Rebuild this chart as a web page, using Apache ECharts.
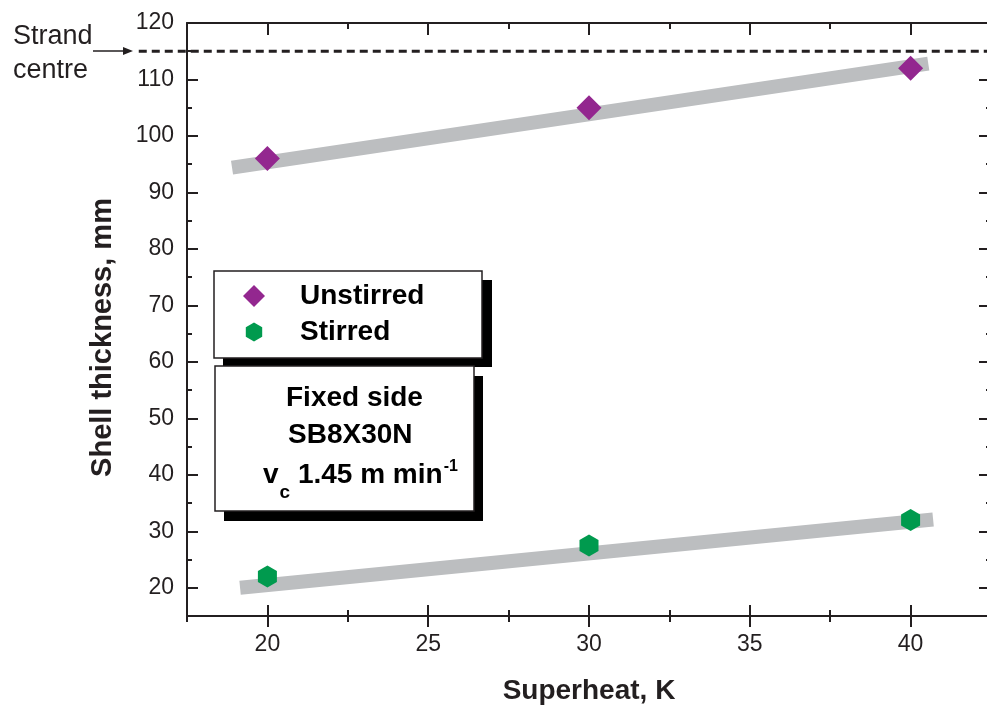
<!DOCTYPE html>
<html>
<head>
<meta charset="utf-8">
<script src="https://cdn.jsdelivr.net/npm/echarts@6/dist/echarts.min.js"></script>
<style>
  html, body { margin: 0; padding: 0; background: #ffffff; }
  #chart { width: 987px; height: 707px; }
</style>
</head>
<body>
<div id="chart"></div>
<script>
// Shell thickness against superheat, fixed side of strand SB8X30N
const superheat = [20, 30, 40];
const unstirred = [96, 105, 112];
const stirred = [22, 27.5, 32];

// End points of the grey trend bands (superheat, thickness)
const unstirredTrendX = [18.9, 40.55];
const unstirredTrendY = [94.4, 112.8];
const stirredTrendX = [19.15, 40.7];
const stirredTrendY = [20.0, 32.1];

// Strand centre reference level
const strandCentre = 115;
const strandLineX = [16, 42.5];

// Axis ticks and labels
const xMajorTicks = [20, 25, 30, 35, 40];
const xMinorTicks = [17.5, 22.5, 27.5, 32.5, 37.5, 42.5];
const yMajorTicks = [20, 30, 40, 50, 60, 70, 80, 90, 100, 110, 120];
const yMinorTicks = [25, 35, 45, 55, 65, 75, 85, 95, 105, 115];

const INK = '#231f20';
const PURPLE = '#93278f';
const GREEN = '#009a4e';
const GREY = '#bcbec0';
const FONT = 'Liberation Sans, Arial, sans-serif';
const HEXAGON = 'path://M0,-1 L0.866,-0.5 L0.866,0.5 L0,1 L-0.866,0.5 L-0.866,-0.5 Z';

const X_MIN = 17.5, X_MAX = 42.5, Y_MIN = 15, Y_MAX = 120;

function pairs(xs, ys) { return xs.map((x, i) => [x, ys[i]]); }

// Extra tick-only axes that frame the plot
function tickAxis(kind, position, ticks, inside, length, showLine) {
  return {
    type: 'value',
    position: position,
    min: kind === 'x' ? X_MIN : Y_MIN,
    max: kind === 'x' ? X_MAX : Y_MAX,
    axisLine: { show: !!showLine, onZero: false, lineStyle: { color: INK, width: 2 } },
    axisTick: { show: true, inside: inside, length: length, customValues: ticks,
                lineStyle: { color: INK, width: 2 } },
    axisLabel: { show: false },
    splitLine: { show: false }
  };
}

function boldText(str, x, y, size) {
  return { type: 'text', z: 12, x: x, y: y,
           style: { text: str, fontFamily: FONT, fontWeight: 'bold', fontSize: size || 28,
                    fill: '#000', verticalAlign: 'middle' } };
}

const chart = echarts.init(document.getElementById('chart'), null, { renderer: 'canvas' });

const graphicBase = [
  // label and arrow pointing at the strand centre level
  {
    type: 'text', x: 13, y: 20, z: 10,
    style: { text: 'Strand\ncentre', fontFamily: FONT, fontSize: 27, lineHeight: 34, fill: INK }
  },
  {
    type: 'line', z: 10,
    shape: { x1: 93, y1: 51, x2: 124, y2: 51 },
    style: { stroke: INK, lineWidth: 1.5 }
  },
  {
    type: 'polygon', z: 10,
    shape: { points: [[123, 47], [133, 51], [123, 55]] },
    style: { fill: INK }
  },
  // legend box
  { type: 'rect', z: 10, shape: { x: 223, y: 280, width: 269, height: 87 }, style: { fill: '#000' } },
  { type: 'rect', z: 11, shape: { x: 214, y: 271, width: 268, height: 87 },
    style: { fill: '#fff', stroke: INK, lineWidth: 1.5 } },
  { type: 'polygon', z: 12, x: 254, y: 296,
    shape: { points: [[0, -11], [11, 0], [0, 11], [-11, 0]] },
    style: { fill: PURPLE } },
  { type: 'polygon', z: 12, x: 254, y: 332,
    shape: { points: [[0, -9.5], [8.2, -4.75], [8.2, 4.75], [0, 9.5], [-8.2, 4.75], [-8.2, -4.75]] },
    style: { fill: GREEN } },
  boldText('Unstirred', 300, 296),
  boldText('Stirred', 300, 332),
  // casting conditions box
  { type: 'rect', z: 10, shape: { x: 224, y: 376, width: 259, height: 145 }, style: { fill: '#000' } },
  { type: 'rect', z: 11, shape: { x: 215, y: 366, width: 259, height: 145 },
    style: { fill: '#fff', stroke: INK, lineWidth: 1.5 } },
  boldText('Fixed side', 286, 398),
  boldText('SB8X30N', 288, 435),
  { type: 'text', z: 12, x: 263, y: 459,
    style: {
      text: '{m|v}{sub|c}{m| 1.45 m min}{sup|-1}',
      verticalAlign: 'top',
      rich: {
        m: { fontFamily: FONT, fontWeight: 'bold', fontSize: 28,
             lineHeight: 34, padding: [2, 0, 0, 0], verticalAlign: 'top', fill: '#000' },
        sub: { fontFamily: FONT, fontWeight: 'bold', fontSize: 19,
               lineHeight: 19, padding: [24, 0, 0, 1], verticalAlign: 'top', fill: '#000' },
        sup: { fontFamily: FONT, fontWeight: 'bold', fontSize: 16,
               lineHeight: 16, padding: [0, 0, 0, 1], verticalAlign: 'top', fill: '#000' }
      }
    } }
];

const option = {
  backgroundColor: '#ffffff',
  animation: false,
  grid: { left: 187, top: 23, width: 804, height: 593, containLabel: false, outerBoundsMode: 'none' },
  xAxis: [
    {
      type: 'value', position: 'bottom', min: X_MIN, max: X_MAX,
      name: 'Superheat, K', nameLocation: 'middle', nameGap: 61,
      nameTextStyle: { fontFamily: FONT, fontWeight: 'bold', fontSize: 28, color: INK },
      axisLine: { show: true, onZero: false, lineStyle: { color: INK, width: 2 } },
      axisTick: { show: true, inside: false, length: 11, customValues: xMajorTicks,
                  lineStyle: { color: INK, width: 2 } },
      axisLabel: { show: true, customValues: xMajorTicks, margin: 17,
                   fontFamily: FONT, fontSize: 23, color: INK },
      splitLine: { show: false }
    },
    tickAxis('x', 'bottom', xMajorTicks, true, 11, false),
    tickAxis('x', 'bottom', xMinorTicks, false, 6, false),
    tickAxis('x', 'bottom', xMinorTicks, true, 6, false),
    tickAxis('x', 'top', xMajorTicks, true, 12, true),
    tickAxis('x', 'top', xMinorTicks, true, 6, false)
  ],
  yAxis: [
    {
      type: 'value', position: 'left', min: Y_MIN, max: Y_MAX,
      name: 'Shell thickness, mm', nameLocation: 'middle', nameGap: 70,
      nameTextStyle: { fontFamily: FONT, fontWeight: 'bold', fontSize: 29, color: INK,
                       padding: [0, 36, 0, 0] },
      axisLine: { show: true, onZero: false, lineStyle: { color: INK, width: 2 } },
      axisTick: { show: true, inside: true, length: 11, customValues: yMajorTicks,
                  lineStyle: { color: INK, width: 2 } },
      axisLabel: { show: true, customValues: yMajorTicks, margin: 13,
                   fontFamily: FONT, fontSize: 23, color: INK },
      splitLine: { show: false }
    },
    tickAxis('y', 'left', yMinorTicks, true, 5, false),
    tickAxis('y', 'right', yMajorTicks, true, 12, true),
    tickAxis('y', 'right', yMinorTicks, true, 5, false)
  ],
  series: [
    {
      name: 'Unstirred trend', type: 'line', data: pairs(unstirredTrendX, unstirredTrendY),
      symbol: 'none', silent: true, z: 1,
      lineStyle: { color: GREY, width: 14, cap: 'butt' }
    },
    {
      name: 'Stirred trend', type: 'line', data: pairs(stirredTrendX, stirredTrendY),
      symbol: 'none', silent: true, z: 1,
      lineStyle: { color: GREY, width: 14, cap: 'butt' }
    },
    {
      name: 'Unstirred', type: 'scatter', z: 3,
      data: pairs(superheat, unstirred),
      symbol: 'diamond', symbolSize: 25,
      itemStyle: { color: PURPLE, opacity: 1 }
    },
    {
      name: 'Stirred', type: 'scatter', z: 3,
      data: pairs(superheat, stirred),
      symbol: HEXAGON, symbolSize: [19, 22], symbolKeepAspect: false,
      itemStyle: { color: GREEN, opacity: 1 }
    }
  ],
  graphic: graphicBase
};

chart.setOption(option);

// Strand centre dashed level, placed through the axis scales; it runs
// past the left edge of the plot towards the arrow.
const p0 = chart.convertToPixel({ gridIndex: 0 }, [strandLineX[0], strandCentre]);
const p1 = chart.convertToPixel({ gridIndex: 0 }, [strandLineX[1], strandCentre]);
chart.setOption({
  graphic: graphicBase.concat([{
    type: 'line', z: 9,
    shape: { x1: p0[0], y1: p0[1], x2: p1[0], y2: p1[1] },
    style: { stroke: INK, lineWidth: 3, lineDash: [8, 5] }
  }])
});
</script>
</body>
</html>
